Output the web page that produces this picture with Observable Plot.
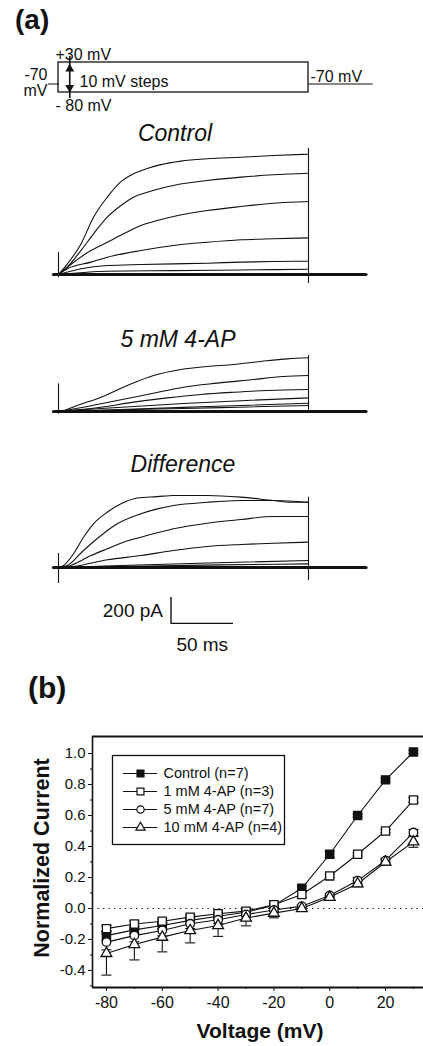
<!DOCTYPE html>
<html><head><meta charset="utf-8">
<script src="https://cdn.jsdelivr.net/npm/d3@7"></script>
<script src="https://cdn.jsdelivr.net/npm/@observablehq/plot@0.6"></script>
<style>
body{margin:0;background:#fff;}
#page{position:relative;width:423px;height:1046px;overflow:hidden;background:#fff;font-family:"Liberation Sans",Arial,sans-serif;}
#page svg{position:absolute;left:0;top:0;}
#legend{position:absolute;left:111px;top:754px;width:174px;height:91px;}
</style></head><body><div id="page"><div id="legend"></div></div>
<script>
// ---------- Panel (a): voltage protocol ----------
const stepBox = {t0: 0, t1: 200, lo: -80, hi: 30};
const holdLeft = [[-8, -70], [0, -70]];
const holdRight = [[200, -70], [251, -70]];

// ---------- Panel (a): current traces, [time ms, current pA] ----------
const sweep = [[-4, 0], [246, 0]];
const controlTraces = [
  [[0,0],[7,80],[18,235],[28,440],[39,595],[50,715],[60,775],[71,815],[82,845],[98,872],[119,890],[146,902],[172,915],[200,925]],
  [[0,0],[7,56],[18,185],[28,313],[39,441],[50,531],[60,595],[71,633],[92,685],[119,723],[146,749],[172,767],[200,779]],
  [[0,0],[7,56],[26,185],[39,248],[52,313],[66,377],[79,415],[92,446],[119,492],[146,523],[172,548],[200,561]],
  [[0,0],[7,44],[26,95],[39,133],[66,185],[92,223],[119,248],[146,267],[172,275],[200,282]],
  [[0,0],[18,44],[39,69],[66,77],[92,82],[119,87],[146,95],[172,100],[200,102]],
  [[0,0],[39,25],[92,30],[146,35],[200,40]]
];
const fourAPTraces = [
  [[0,0],[5,10],[15,46],[34,110],[55,200],[76,277],[98,323],[119,346],[140,361],[162,385],[183,405],[200,413]],
  [[0,0],[20,33],[47,85],[74,136],[100,187],[127,218],[154,244],[180,269],[200,277]],
  [[0,0],[34,33],[60,72],[87,105],[114,131],[140,148],[167,162],[200,169]],
  [[0,0],[34,23],[100,62],[150,85],[200,105]],
  [[0,0],[50,15],[120,38],[200,64]],
  [[0,0],[60,15],[130,30],[200,46]]
];
const diffTraces = [
  [[0,0],[4,15],[12,105],[20,233],[28,336],[39,425],[50,490],[63,535],[79,545],[92,554],[119,554],[146,541],[172,515],[186,502],[200,502]],
  [[0,0],[7,15],[20,131],[34,246],[47,336],[66,413],[79,451],[92,477],[119,502],[146,515],[172,515],[200,502]],
  [[0,0],[7,8],[26,92],[39,144],[52,195],[66,233],[92,298],[119,341],[146,369],[172,392],[200,392]],
  [[0,0],[12,8],[39,59],[66,92],[92,131],[119,162],[146,177],[172,187],[200,195]],
  [[0,0],[50,15],[120,35],[200,54]],
  [[0,0],[60,10],[130,20],[200,28]]
];
// capacitive transients at step on/off (pA)
const controlSpikes = [{t: 0, lo: -25, hi: 170}, {t: 200, lo: -69, hi: 969}];
const fourAPSpikes  = [{t: 0, lo: -20, hi: 213}, {t: 200, lo: -10, hi: 430}];
const diffSpikes    = [{t: 0, lo: -123, hi: 108}, {t: 200, lo: -100, hi: 540}];
const scaleBar = {t: 90, pA: -430, ms: 50, amp: 200};

// ---------- Panel (b): I-V data ----------
const voltages = [-80,-70,-60,-50,-40,-30,-20,-10,0,10,20,30];
const controlIV = [-0.175,-0.138,-0.11,-0.077,-0.05,-0.024,0.02,0.13,0.35,0.60,0.83,1.01];
const ap1IV     = [-0.13,-0.10,-0.082,-0.056,-0.034,-0.017,0.024,0.09,0.21,0.35,0.50,0.70];
const ap5IV     = [-0.217,-0.175,-0.142,-0.099,-0.073,-0.039,-0.01,0.015,0.084,0.18,0.31,0.49];
const ap10IV    = [-0.29,-0.232,-0.185,-0.142,-0.11,-0.062,-0.03,0.0,0.072,0.16,0.30,0.43];
const controlErr = [0.03,0.025,0.02,0.02,0.015,0.01,0.01,0.015,0.02,0.01,0.01,0.01];
const ap1Err     = [0.02,0.02,0.015,0.015,0.01,0.01,0.01,0.02,0.01,0.01,0.01,0.015];
const ap5Err     = [0.05,0.04,0.035,0.03,0.025,0.015,0.01,0.01,0.01,0.02,0.015,0.02];
const ap10Err    = [0.14,0.10,0.095,0.08,0.07,0.05,0.03,0.015,0.01,0.02,0.02,0.035];
const seriesNames = ["Control (n=7)", "1 mM 4-AP (n=3)", "5 mM 4-AP (n=7)", "10 mM 4-AP (n=4)"];
const xTicks = [-80,-60,-40,-20,0,20];
const xMinor = [-70,-50,-30,-10,10,30];
const yTicks = [-0.4,-0.2,0,0.2,0.4,0.6,0.8,1.0];
const yMinor = [-0.5,-0.3,-0.1,0.1,0.3,0.5,0.7,0.9];

// ---------- build ----------
const page = document.getElementById("page");
const FONT = "Liberation Sans, Arial, Helvetica, sans-serif";
const baseStyle = {fontFamily: FONT, background: "transparent", overflow: "visible"};

function tracePlot(traces, spikes, baseY, extra = []) {
  const rows = traces.flatMap((tr, k) => tr.map(([t, a]) => ({k, t, a})));
  return Plot.plot({
    width: 423, height: 1046, margin: 0,
    style: baseStyle,
    x: {domain: [0, 200], range: [58, 308], axis: null},
    y: {domain: [0, 200], range: [baseY, baseY - 26], axis: null},
    marks: [
      Plot.line(sweep, {stroke: "#111", strokeWidth: 3.2}),
      Plot.line(rows, {x: "t", y: "a", z: "k", stroke: "#111", strokeWidth: 1.1, curve: "monotone-x"}),
      Plot.ruleX(spikes, {x: "t", y1: "lo", y2: "hi", stroke: "#111", strokeWidth: 1.1}),
      ...extra
    ]
  });
}

// schematic (non-proportional) voltage axis of the protocol drawing
const schematicMV = d3.scaleLinear().domain([-80, -70, 30]).range([-80, -48.8, 30]);
const protocol = Plot.plot({
  width: 423, height: 1046, margin: 0,
  style: {...baseStyle, fontSize: "16px"},
  x: {domain: [0, 200], range: [58, 308], axis: null},
  y: {domain: [-80, 30], range: [92, 62], transform: v => schematicMV(v), axis: null},
  marks: [
    Plot.rect([stepBox], {x1: "t0", x2: "t1", y1: "lo", y2: "hi", fill: "none", stroke: "#111", strokeWidth: 1.3}),
    Plot.line(holdLeft, {stroke: "#111", strokeWidth: 1.1}),
    Plot.line(holdRight, {stroke: "#111", strokeWidth: 1.1}),
    Plot.text([stepBox], {x: "t0", y: "hi", text: () => "+30 mV", textAnchor: "start", lineAnchor: "bottom", dx: -3, dy: -3, fontSize: 16, fill: "#111"}),
    Plot.text([stepBox], {x: "t0", y: "lo", text: () => "- 80 mV", textAnchor: "start", lineAnchor: "bottom", dx: -3, dy: 18, fontSize: 16, fill: "#111"}),
    Plot.text([holdLeft[0]], {text: () => "-70", textAnchor: "end", lineAnchor: "bottom", dx: -1, dy: -4, fontSize: 16, fill: "#111"}),
    Plot.text([holdLeft[0]], {text: () => "mV", textAnchor: "end", lineAnchor: "bottom", dx: -1, dy: 12, fontSize: 16, fill: "#111"}),
    Plot.text([holdRight[0]], {text: () => "-70 mV", textAnchor: "start", lineAnchor: "bottom", dx: 2, dy: -2, fontSize: 16, fill: "#111"}),
    Plot.text([holdLeft[1]], {text: () => "10 mV steps", textAnchor: "start", lineAnchor: "bottom", dx: 21, dy: 3, fontSize: 16, fill: "#111"}),
    Plot.ruleX([stepBox], {x: 9, y1: "lo", y2: "hi", insetTop: 6, insetBottom: 6, stroke: "#111", strokeWidth: 1.6}),
    Plot.dot([stepBox], {x: 9, y: "hi", dy: 6.5, symbol: "triangle", r: 3.3, fill: "#111", stroke: "none"}),
    Plot.dot([stepBox], {x: 9, y: "lo", dy: -5, symbol: "triangle", rotate: 180, r: 3.3, fill: "#111", stroke: "none"})
  ]
});

const control = tracePlot(controlTraces, controlSpikes, 274);
const fourAP = tracePlot(fourAPTraces, fourAPSpikes, 411);
const diff = tracePlot(diffTraces, diffSpikes, 567, [
  Plot.ruleX([scaleBar], {x: "t", y1: "pA", y2: d => d.pA + d.amp, stroke: "#111", strokeWidth: 1.4}),
  Plot.ruleY([scaleBar], {y: "pA", x1: "t", x2: d => d.t + d.ms, stroke: "#111", strokeWidth: 1.4}),
  Plot.text([scaleBar], {x: "t", y: "pA", text: () => "200 pA", textAnchor: "end", lineAnchor: "bottom", dx: -8, dy: -6, fontSize: 19, fill: "#111"}),
  Plot.text([scaleBar], {x: d => d.t + d.ms / 2, y: "pA", text: () => "50 ms", textAnchor: "middle", lineAnchor: "bottom", dy: 28, fontSize: 19, fill: "#111"})
]);

// panel (b)
const series = [
  {name: seriesNames[0], values: controlIV, err: controlErr, symbol: "square", fill: "#111", r: 4.6},
  {name: seriesNames[1], values: ap1IV, err: ap1Err, symbol: "square", fill: "white", r: 4.6},
  {name: seriesNames[2], values: ap5IV, err: ap5Err, symbol: "circle", fill: "white", r: 4.3},
  {name: seriesNames[3], values: ap10IV, err: ap10Err, symbol: "triangle", fill: "white", r: 4.0}
];
const rows = series.flatMap(s => voltages.map((v, i) => ({series: s.name, v, y: s.values[i], err: s.err[i]})));
const capSymbol = {draw(ctx, size) { const w = Math.sqrt(size / Math.PI); ctx.moveTo(-w, 0); ctx.lineTo(w, 0); }};
const xDomain = [-85, 33.6], yDomain = [-0.51, 1.11];

const iv = Plot.plot({
  width: 423, height: 1046,
  marginTop: 736, marginBottom: 59, marginLeft: 92, marginRight: 0,
  style: baseStyle,
  x: {domain: xDomain, label: null},
  y: {domain: yDomain, label: null},
  marks: [
    Plot.ruleY([0], {stroke: "#111", strokeDasharray: "1.3,4.2", strokeWidth: 1.2}),
    Plot.ruleX(rows, {x: "v", y1: d => d.y - d.err, y2: d => d.y + d.err, stroke: "#111", strokeWidth: 1.1}),
    Plot.dot(rows, {x: "v", y: d => d.y - d.err, symbol: capSymbol, r: 5, fill: "none", stroke: "#111", strokeWidth: 1.1}),
    Plot.dot(rows, {x: "v", y: d => d.y + d.err, symbol: capSymbol, r: 5, fill: "none", stroke: "#111", strokeWidth: 1.1}),
    Plot.line(rows, {x: "v", y: "y", z: "series", stroke: "#111", strokeWidth: 1.1}),
    ...series.map(s => Plot.dot(rows.filter(d => d.series === s.name), {x: "v", y: "y", symbol: s.symbol, r: s.r, fill: s.fill, stroke: "#111", strokeWidth: 1.3})),
    Plot.ruleX([xDomain[0]], {stroke: "#111", strokeWidth: 1.6}),
    Plot.ruleY([yDomain[0]], {stroke: "#111", strokeWidth: 2}),
    Plot.ruleY([yDomain[1]], {stroke: "#111", strokeWidth: 2}),
    Plot.axisY({ticks: yTicks, tickFormat: d => d.toFixed(1), tickSize: 4, tickPadding: 3, fontSize: 15, label: null, stroke: "#111", fill: "#111"}),
    Plot.axisY({ticks: yMinor, tickFormat: () => "", tickSize: 2, label: null, stroke: "#111"}),
    Plot.axisX({ticks: xTicks, tickFormat: d => String(d), tickSize: 4, tickPadding: 5, fontSize: 16, label: null, stroke: "#111", fill: "#111"}),
    Plot.axisX({ticks: xMinor, tickFormat: () => "", tickSize: 2, label: null, stroke: "#111"})
  ]
});

// legend
const legend = Plot.plot({
  width: 174, height: 91, margin: 1,
  style: baseStyle,
  x: {domain: [0, 172], range: [1, 173], axis: null},
  y: {type: "point", domain: seriesNames, range: [18, 73], padding: 0, axis: null},
  marks: [
    Plot.frame({stroke: "#111", strokeWidth: 1.3}),
    Plot.ruleY(seriesNames, {y: d => d, x1: 11, x2: 45, stroke: "#111", strokeWidth: 1.1}),
    ...series.map(s => Plot.dot([s.name], {x: 28, y: d => d, symbol: s.symbol, r: s.r * 0.85, fill: s.fill, stroke: "#111", strokeWidth: 1.2})),
    Plot.text(seriesNames, {x: 51, y: d => d, text: d => d, textAnchor: "start", lineAnchor: "middle", fontSize: 14.5, fill: "#111"})
  ]
});

[protocol, control, fourAP, diff, iv].forEach(p => page.appendChild(p));
document.getElementById("legend").appendChild(legend);

// free text annotations
const ov = d3.create("svg").attr("width", 423).attr("height", 1046)
  .style("font-family", FONT).style("overflow", "visible");
const T = (x, y, s, o = {}) => ov.append("text").attr("x", x).attr("y", y)
  .attr("font-size", o.size || 16).attr("font-weight", o.bold ? "bold" : null)
  .attr("font-style", o.italic ? "italic" : null).attr("text-anchor", o.anchor || "start")
  .attr("transform", o.rotate ? `rotate(${o.rotate},${x},${y})` : null).attr("fill", "#111").text(s);
T(15, 29, "(a)", {size: 28, bold: true});
T(28, 698, "(b)", {size: 30, bold: true});
T(175, 141, "Control", {size: 23, italic: true, anchor: "middle"});
T(178, 347, "5 mM 4-AP", {size: 23, italic: true, anchor: "middle"});
T(183, 472, "Difference", {size: 23, italic: true, anchor: "middle"});
T(49, 858, "Normalized Current", {size: 21.5, bold: true, anchor: "middle", rotate: -90});
T(260, 1038, "Voltage (mV)", {size: 21, bold: true, anchor: "middle"});
page.appendChild(ov.node());
</script>
</body></html>
